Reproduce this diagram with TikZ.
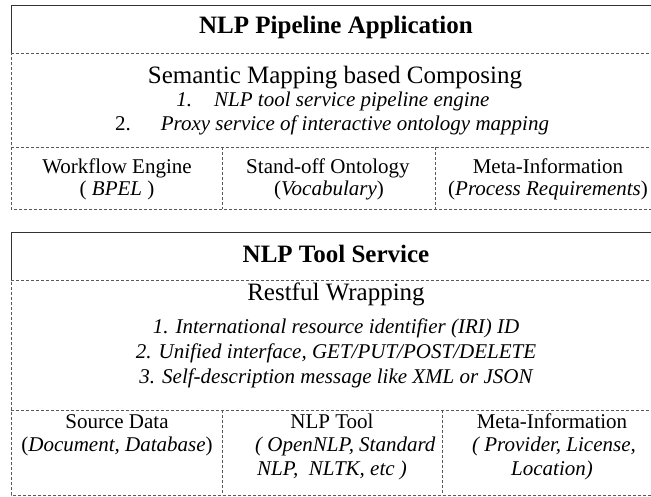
\documentclass[tikz,border=0pt]{standalone}
\usepackage{fontspec}
\setmainfont{Liberation Serif}
\usepackage{tikz}
\usetikzlibrary{positioning}

\begin{document}
\begin{tikzpicture}[x=1pt, y=-1pt,
    frame/.style={black!80, line width=0.9pt},
    dashline/.style={black!65, line width=0.7pt, dash pattern=on 3pt off 2pt},
    title/.style={anchor=base, inner sep=0pt, font=\fontsize{25}{30}\selectfont\bfseries},
    head/.style={anchor=base, inner sep=0pt, font=\fontsize{25}{30}\selectfont},
    item/.style={anchor=base, inner sep=0pt, font=\fontsize{21}{25}\selectfont\itshape},
    cell/.style={anchor=base, inner sep=0pt, font=\fontsize{21}{25}\selectfont}]
\clip (0,0) rectangle (651,496);

\coordinate (appNW) at (11,5);
\coordinate (appNE) at (661,5);
\coordinate (appHW) at (11,53);
\coordinate (appHE) at (661,53);
\coordinate (appMW) at (11,147);
\coordinate (appME) at (661,147);
\coordinate (appSW) at (11,209);
\coordinate (appSE) at (661,209);
\draw[frame] (appHW) -- (appNW) -- (appNE) -- (appHE);
\draw[dashline] (appHW) -- (appHE) -- (appSE) -- (appSW) -- cycle
                (appMW) -- (appME)
                (222,147) -- (222,209)
                (435,147) -- (435,209);

\node[title] (apptitle) at (336,33) {NLP Pipeline Application};
\node[head] (compose) at (335,83) {Semantic Mapping based Composing};
\node[item] (engine) at (333,106) {1.\hspace{22pt}NLP tool service pipeline engine};
\node[item] (proxy) at (332,130) {{\upshape 2.}\hspace{30pt}Proxy service of interactive ontology mapping};
\node[cell] (wf) at (117,173) {Workflow Engine};
\node[cell] (bpel) at (117,195) {( \textit{BPEL} )};
\node[cell] (onto) at (328,173) {Stand-off Ontology};
\node[cell] (vocab) at (329,195) {(\textit{Vocabulary})};
\node[cell] (meta) at (548,173) {Meta-Information};
\node[cell] (proc) at (548,195) {(\textit{Process Requirements})};

\coordinate (svcNW) at (11,232);
\coordinate (svcNE) at (661,232);
\coordinate (svcHW) at (11,280);
\coordinate (svcHE) at (661,280);
\coordinate (svcMW) at (11,410);
\coordinate (svcME) at (661,410);
\coordinate (svcSW) at (11,495);
\coordinate (svcSE) at (661,495);
\draw[frame] (svcHW) -- (svcNW) -- (svcNE) -- (svcHE);
\draw[dashline] (svcHW) -- (svcHE) -- (svcSE) -- (svcSW) -- cycle
                (svcMW) -- (svcME)
                (222,410) -- (222,495)
                (442,410) -- (442,495);

\node[title] (svctitle) at (336,262) {NLP Tool Service};
\node[head] (rest) at (336,300) {Restful Wrapping};
\node[item] (iri) at (336,333) {1. International resource identifier (IRI) ID};
\node[item] (uni) at (336,358) {2. Unified interface, GET/PUT/POST/DELETE};
\node[item] (self) at (336,383) {3. Self-description message like XML or JSON};
\node[cell] (src) at (117,428) {Source Data};
\node[cell] (doc) at (117,451) {(\textit{Document, Database})};
\node[cell] (tool) at (332,428) {NLP Tool};
\node[item, anchor=base west] (open) at (255,451) {( OpenNLP, Standard};
\node[item, anchor=base west] (nltk) at (257,475) {NLP,\ \ NLTK, etc )};
\node[cell] (meta2) at (552,428) {Meta-Information};
\node[item] (prov) at (554,451) {( Provider, License,};
\node[item] (loc) at (552,475) {Location)};
\end{tikzpicture}
\end{document}
